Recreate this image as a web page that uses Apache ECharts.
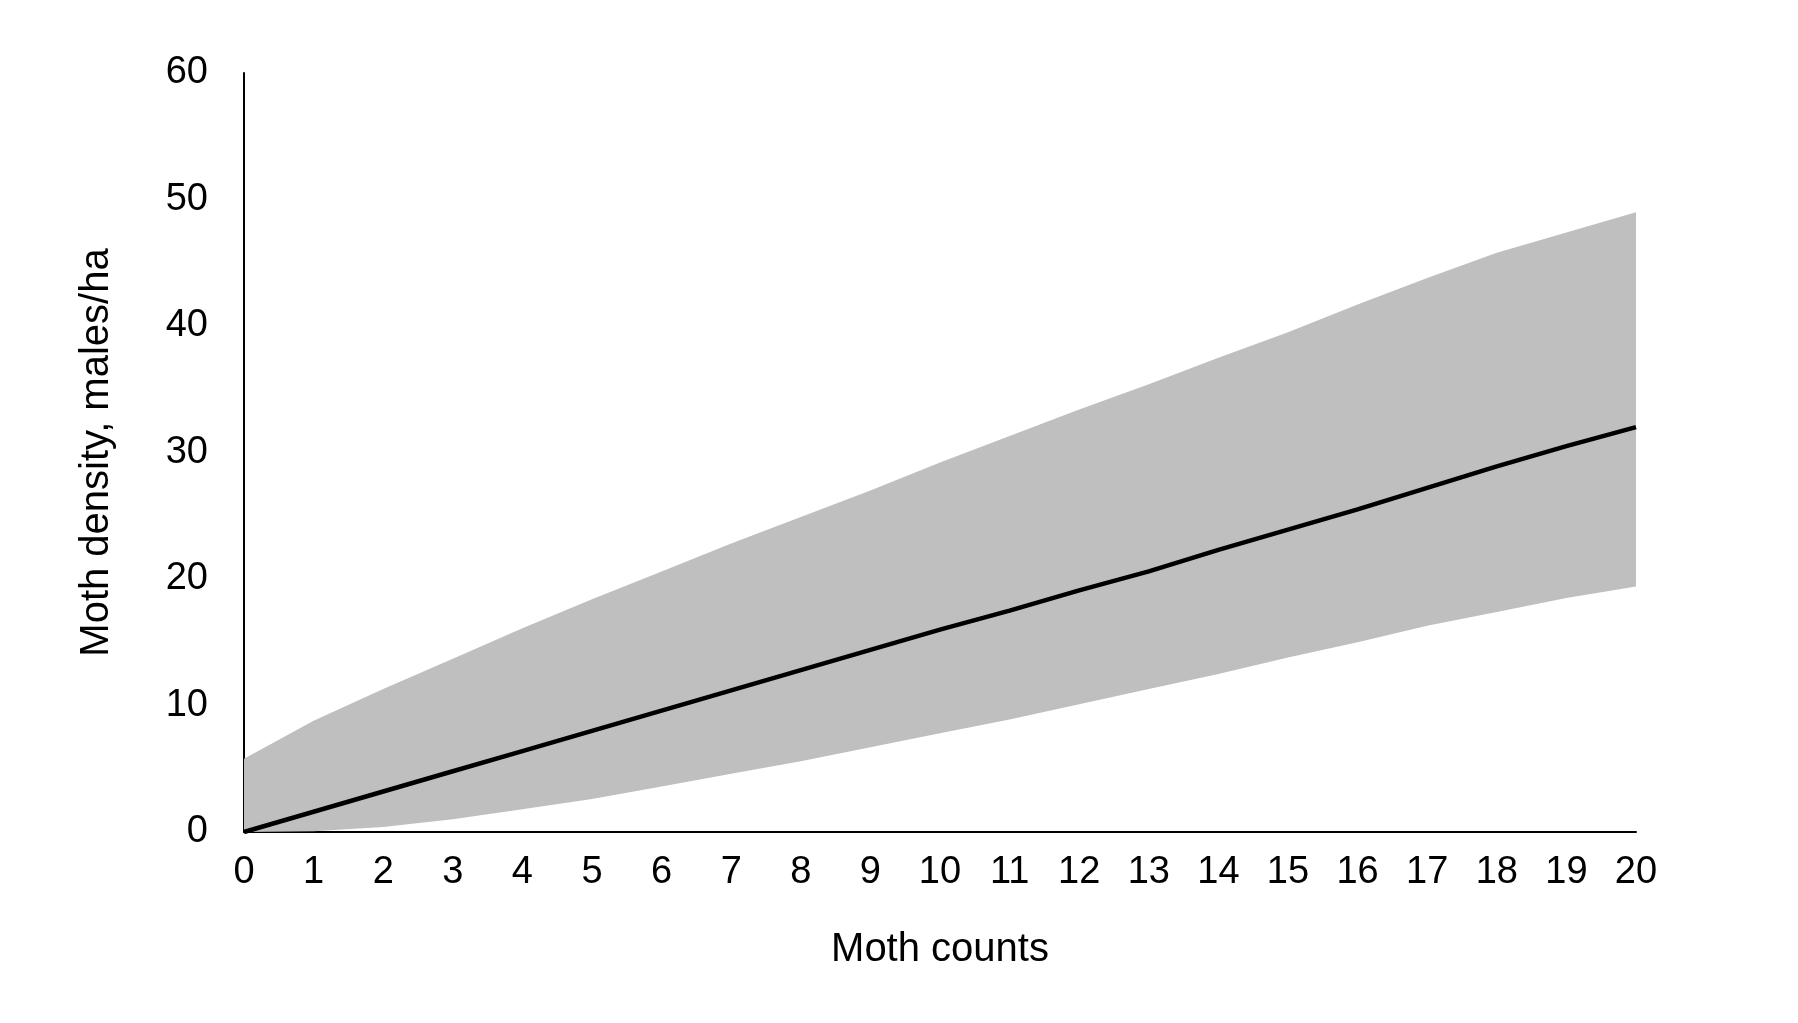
<!DOCTYPE html>
<html><head><meta charset="utf-8">
<script src="https://cdn.jsdelivr.net/npm/echarts@6/dist/echarts.min.js"></script>
<style>html,body{margin:0;background:#fff}#c{width:1798px;height:1023px}</style>
</head><body><div id="c"></div>
<script>
const counts = ['0','1','2','3','4','5','6','7','8','9','10','11','12','13','14','15','16','17','18','19','20'];
const mean  = [0,1.6,3.2,4.8,6.4,8.0,9.6,11.2,12.8,14.4,16.0,17.5,19.1,20.6,22.3,23.9,25.5,27.2,28.9,30.5,32.0];
const upper = [5.8,8.8,11.3,13.7,16.1,18.4,20.6,22.8,24.9,27.0,29.2,31.3,33.4,35.4,37.5,39.5,41.7,43.8,45.8,47.4,49.0];
const lower = [0,0.05,0.4,1.0,1.8,2.6,3.6,4.6,5.6,6.7,7.8,8.9,10.1,11.3,12.5,13.8,15.0,16.3,17.4,18.5,19.4];
const band = upper.map((u,i)=>+(u-lower[i]).toFixed(2));
const font = 'Liberation Sans, Arial, sans-serif';
const chart = echarts.init(document.getElementById('c'));
chart.setOption({
  animation:false,
  grid:{left:244,right:162,top:73,bottom:191},
  xAxis:{type:'category',data:counts,boundaryGap:false,name:'Moth counts',nameLocation:'middle',nameGap:98,
    nameTextStyle:{fontFamily:font,fontSize:40,color:'#000'},
    axisLine:{lineStyle:{color:'#000',width:2}},axisTick:{show:false},
    axisLabel:{fontFamily:font,fontSize:38,color:'#000',margin:22},splitLine:{show:false}},
  yAxis:{type:'value',min:0,max:60,interval:10,name:'Moth density, males/ha',nameLocation:'middle',nameGap:127,
    nameTextStyle:{fontFamily:font,fontSize:40,color:'#000'},
    axisLine:{show:true,lineStyle:{color:'#000',width:2}},axisTick:{show:false},
    axisLabel:{fontFamily:font,fontSize:38,color:'#000',margin:36},splitLine:{show:false}},
  series:[
    {type:'line',data:lower,stack:'b',symbol:'none',lineStyle:{width:0},areaStyle:{opacity:0}},
    {type:'line',data:band,stack:'b',symbol:'none',lineStyle:{width:0},areaStyle:{color:'#bfbfbf',opacity:1}},
    {type:'line',data:mean,symbol:'none',lineStyle:{color:'#000',width:4.5},z:5}
  ]
});
</script></body></html>
